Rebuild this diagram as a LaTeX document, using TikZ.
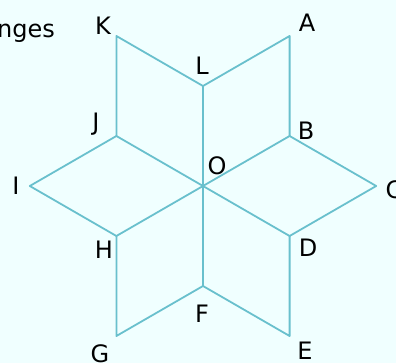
\documentclass[tikz,border=0pt]{standalone}
\usepackage{fontspec}
\setmainfont{DejaVu Sans}
\definecolor{bgc}{RGB}{240,255,255}
\definecolor{edgec}{RGB}{105,192,205}
\begin{document}
\begin{tikzpicture}[x=1pt,y=-1pt,
  edge/.style={draw=edgec,line width=1.8pt,line join=round},
  lbl/.style={font=\fontsize{24}{28}\selectfont,inner sep=0pt,text=black}]
\fill[bgc] (0,0) rectangle (396,363);
\useasboundingbox (0,0) rectangle (396,363);
\coordinate (O) at (203,186);
\coordinate (L) at (203,86);
\coordinate (F) at (203,286);
\coordinate (A) at (289.6,36);
\coordinate (B) at (289.6,136);
\coordinate (C) at (376.2,186);
\coordinate (D) at (289.6,236);
\coordinate (E) at (289.6,336);
\coordinate (G) at (116.4,336);
\coordinate (H) at (116.4,236);
\coordinate (I) at (29.8,186);
\coordinate (J) at (116.4,136);
\coordinate (K) at (116.4,36);
\draw[edge] (O) -- (L) -- (K) -- (J) -- cycle;
\draw[edge] (L) -- (A) -- (B) -- (O);
\draw[edge] (B) -- (C) -- (D) -- (O);
\draw[edge] (D) -- (E) -- (F) -- (O);
\draw[edge] (F) -- (G) -- (H) -- (O);
\draw[edge] (H) -- (I) -- (J);
\node[lbl] (tA) at (307,23) {A};
\node[lbl] (tK) at (103,26) {K};
\node[lbl] (tL) at (202,66) {L};
\node[lbl] (tB) at (306,131) {B};
\node[lbl] (tJ) at (96,124) {J};
\node[lbl] (tO) at (217,166) {O};
\node[lbl] (tI) at (16,186) {I};
\node[lbl] (tC) at (394,190) {C};
\node[lbl] (tH) at (104,250) {H};
\node[lbl] (tD) at (308,248) {D};
\node[lbl] (tF) at (202,314) {F};
\node[lbl] (tG) at (100,354) {G};
\node[lbl] (tE) at (305,351) {E};
\node[lbl,anchor=base east] (title) at (55,38) {Changes};
\end{tikzpicture}
\end{document}
